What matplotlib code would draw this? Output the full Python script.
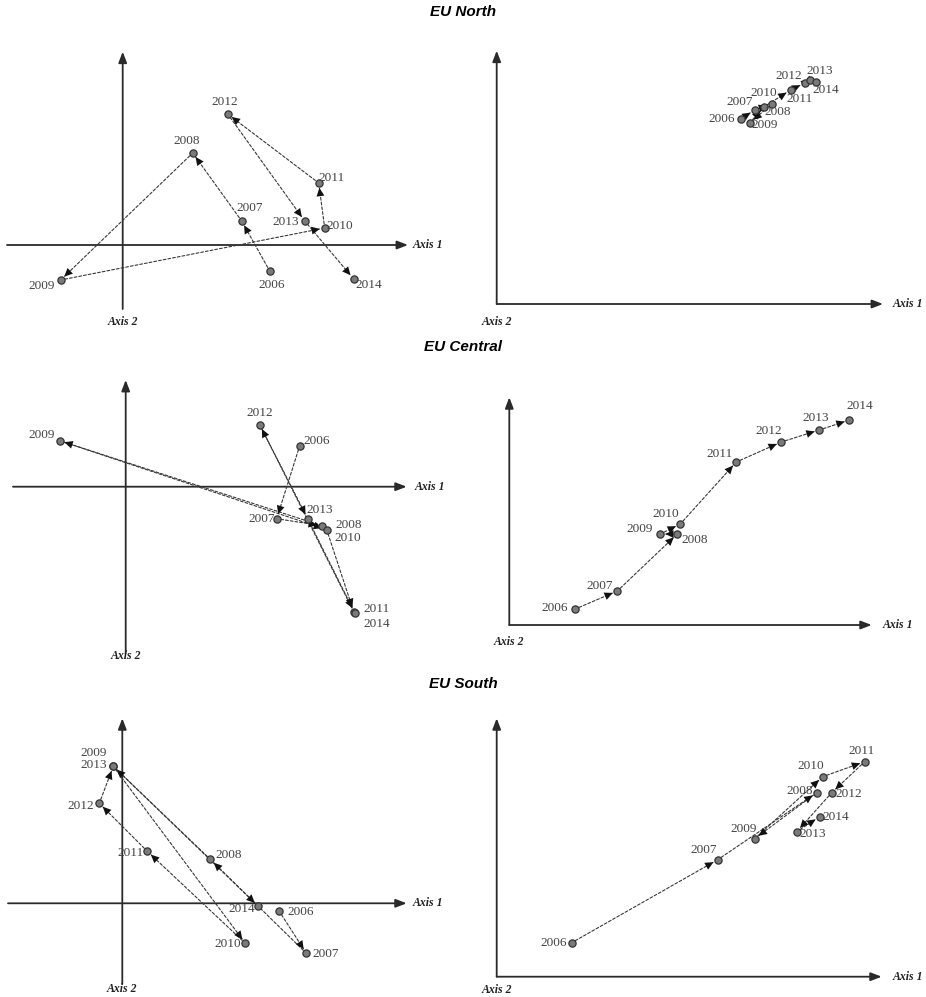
import matplotlib
matplotlib.use("Agg")
import matplotlib.pyplot as plt

years = [2006, 2007, 2008, 2009, 2010, 2011, 2012, 2013, 2014]

# factor plane (left) and cumulative plane (right), one pair per region
north_a1 = [1.47, 1.19, 0.70, -0.62, 2.02, 1.96, 1.05, 1.82, 2.31]
north_a2 = [-0.26, 0.24, 0.92, -0.35, 0.17, 0.62, 1.31, 0.24, -0.34]
north_b1 = [2.44, 2.58, 2.75, 2.53, 2.67, 2.94, 3.08, 3.13, 3.19]
north_b2 = [1.85, 1.94, 2.00, 1.81, 1.97, 2.14, 2.21, 2.24, 2.22]

central_a1 = [1.74, 1.51, 1.96, -0.66, 2.01, 2.28, 1.34, 1.82, 2.29]
central_a2 = [0.41, -0.32, -0.39, 0.46, -0.43, -1.25, 0.62, -0.32, -1.26]
central_b1 = [0.66, 1.08, 1.68, 1.51, 1.71, 2.27, 2.72, 3.10, 3.40]
central_b2 = [0.16, 0.34, 0.91, 0.91, 1.01, 1.63, 1.83, 1.95, 2.05]

south_a1 = [1.57, 1.84, 0.88, -0.09, 1.23, 0.25, -0.23, -0.09, 1.36]
south_a2 = [-0.08, -0.50, 0.44, 1.37, -0.40, 0.52, 1.00, 1.37, -0.03]
south_b1 = [0.75, 2.21, 3.20, 2.58, 3.26, 3.68, 3.35, 3.00, 3.23]
south_b2 = [0.34, 1.17, 1.84, 1.38, 2.00, 2.15, 1.84, 1.45, 1.60]

titles = ["EU North", "EU Central", "EU South"]

W, H = 926, 997
S = 100.0  # pixels per unit

# label offsets in pixels (dx, dy) for each year
lab_n_a = [(2, -14), (8, 13), (-6, 12), (-19, -6), (15, 2), (13, 5), (-3, 12), (-19, -1), (15, -6)]
lab_n_b = [(-19, 0), (-15, 8), (6, -8), (15, -2), (0, 14), (9, -9), (-16, 7), (10, 9), (10, -8)]
lab_c_a = [(17, 5), (-15, 0), (27, 1), (-18, 6), (21, -8), (23, 3), (0, 12), (12, 9), (22, -11)]
lab_c_b = [(-21, 1), (-18, 5), (17, -6), (-21, 5), (-15, 10), (-17, 8), (-13, 11), (-4, 12), (10, 14)]
lab_s_a = [(21, -1), (19, -1), (18, 4), (-20, 13), (-18, -1), (-17, -2), (-19, -3), (-20, 1), (-17, -3)]
lab_s_b = [(-18, 0), (-14, 10), (-17, 2), (-11, 10), (-12, 11), (-3, 11), (17, -1), (16, -2), (16, 0)]

# panel layout: pixel box, origin, axis ends (pixels)
panels = [
    dict(box=(0, 25, 460, 335), org=(122.7, 245), hx=(7, 408), vy=(309, 51.7),
         x=north_a1, y=north_a2, lab=lab_n_a, a1=413, a2y=322),
    dict(box=(460, 25, 926, 335), org=(496.7, 304), hx=(496.7, 883), vy=(304, 50.7),
         x=north_b1, y=north_b2, lab=lab_n_b, a1=893, a2y=322),
    dict(box=(0, 355, 460, 665), org=(125.7, 486.7), hx=(13, 406.7), vy=(653, 380),
         x=central_a1, y=central_a2, lab=lab_c_a, a1=415, a2y=656),
    dict(box=(460, 355, 926, 665), org=(509.3, 625), hx=(509.3, 871.7), vy=(625, 397.3),
         x=central_b1, y=central_b2, lab=lab_c_b, a1=883, a2y=642),
    dict(box=(0, 692, 460, 997), org=(122.3, 903.3), hx=(8, 406.7), vy=(984, 718.3),
         x=south_a1, y=south_a2, lab=lab_s_a, a1=413, a2y=989),
    dict(box=(460, 692, 926, 997), org=(496.7, 976.7), hx=(496.7, 881.7), vy=(976.7, 718.3),
         x=south_b1, y=south_b2, lab=lab_s_b, a1=893, a2y=990),
]

fig = plt.figure(figsize=(W / 100, H / 100), dpi=100)
fig.patch.set_facecolor("white")

serif = "Liberation Serif"

for p in panels:
    l, t, r, b = p["box"]
    ox, oy = p["org"]
    ax = fig.add_axes([l / W, 1 - b / H, (r - l) / W, (b - t) / H])
    ax.set_xlim((l - ox) / S, (r - ox) / S)
    ax.set_ylim((oy - b) / S, (oy - t) / S)
    ax.axis("off")

    # coordinate axes with arrow tips
    axis_kw = dict(arrowstyle="-|>,head_length=0.65,head_width=0.25", color="#2a2a2a",
                   lw=1.3, shrinkA=0, shrinkB=0)
    ax.annotate("", xy=((p["hx"][1] - ox) / S, 0), xytext=((p["hx"][0] - ox) / S, 0),
                arrowprops=axis_kw)
    ax.annotate("", xy=(0, (oy - p["vy"][1]) / S), xytext=(0, (oy - p["vy"][0]) / S),
                arrowprops=axis_kw)
    ax.text((p["a1"] - ox) / S, 0, "Axis 1", family=serif, style="italic",
            weight="bold", fontsize=8.5, ha="left", va="center", color="#222222")
    ax.text(0, (oy - p["a2y"]) / S, "Axis 2", family=serif, style="italic",
            weight="bold", fontsize=8.5, ha="center", va="center", color="#222222")

    xs, ys = p["x"], p["y"]
    # yearly path: dashed segment plus solid black head
    for i in range(len(xs) - 1):
        ax.annotate("", xy=(xs[i + 1], ys[i + 1]), xytext=(xs[i], ys[i]),
                    arrowprops=dict(arrowstyle="-", color="#3a3a3a", lw=0.8,
                                    ls=(0, (2.5, 1.8)), shrinkA=3, shrinkB=4))
        ax.annotate("", xy=(xs[i + 1], ys[i + 1]), xytext=(xs[i], ys[i]),
                    arrowprops=dict(arrowstyle="-|>,head_length=0.6,head_width=0.28",
                                    color="#111111", lw=0.01, fill=True,
                                    shrinkA=3, shrinkB=3.5, alpha=1),
                    zorder=4)
    ax.plot(xs, ys, "o", ms=5.2, mfc="#7a7a7a", mec="#333333", mew=0.9, zorder=5)
    for yr, xv, yv, off in zip(years, xs, ys, p["lab"]):
        ax.annotate(str(yr), (xv, yv), xytext=off, textcoords="offset pixels",
                    ha="center", va="center", family=serif, fontsize=9.5,
                    color="#444444", zorder=6)

for title, ypx in zip(titles, [12, 347, 684]):
    fig.text(0.5, 1 - ypx / H, title, ha="center", va="center", fontsize=11,
             weight="bold", style="italic", family="Liberation Sans")

fig.savefig("out.png", dpi=100)
